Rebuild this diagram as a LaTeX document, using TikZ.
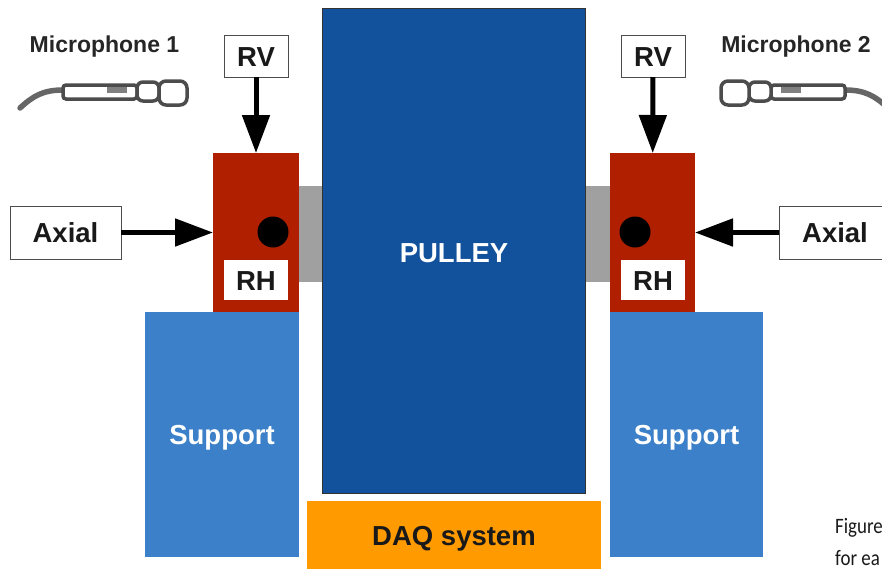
\documentclass[tikz,border=0pt]{standalone}
\usepackage{xcolor}
\usepackage{fontspec}
\setmainfont{Liberation Sans}
\newfontfamily\notefont{Carlito}
\usetikzlibrary{arrows.meta}
\definecolor{pulleyblue}{HTML}{12529C}
\definecolor{supportblue}{HTML}{3B80C8}
\definecolor{bearingred}{HTML}{B02000}
\definecolor{daqorange}{HTML}{FF9A00}
\definecolor{shaftgrey}{HTML}{A0A0A0}
\tikzset{
	block/.style={inner sep=0pt, outer sep=0pt, text height=20pt, text depth=0pt, font=\fontsize{27.5}{30}\selectfont\bfseries, text=white},
	tag/.style={draw=black!70, line width=.8pt, fill=white, inner sep=0pt, outer sep=0pt, text height=20pt, text depth=0pt, font=\fontsize{27.5}{30}\selectfont\bfseries, text=black!90},
	force/.style={line width=5pt, -{Triangle[length=38pt,width=27pt]}},
	notetext/.style={anchor=base west, inner sep=0pt, xscale=.86, font=\notefont\fontsize{22}{24}\selectfont, text=black!90},
	mike/.pic={
		\draw[line width=5.5pt, black!60, line cap=round] (-131,12) .. controls (-118,0) and (-108,-6) .. (-88,-6);
		\draw[line width=3.5pt, black!70, rounded corners=3pt, fill=white] (-88,-11) rectangle (-14,3);
		\fill[black!50] (-44,-9) rectangle (-24,-3);
		\draw[line width=3.5pt, black!70, rounded corners=6pt, fill=white] (-14,-14) rectangle (8,5);
		\draw[line width=3.5pt, black!70, rounded corners=7pt, fill=white] (8,-15) rectangle (36,9);
	}
}
\begin{document}
\begin{tikzpicture}[x=1pt,y=-1pt]
	\useasboundingbox (0,0) rectangle (882,571);
	% blocks
	\node[block, fill=supportblue, minimum width=154pt, minimum height=245pt] (support1) at (222,434.5) {Support};
	\node[block, fill=supportblue, minimum width=153pt, minimum height=245pt] (support2) at (686.5,434.5) {Support};
	\node[block, fill=shaftgrey, minimum width=23pt, minimum height=96pt] (shaft1) at (310.5,234) {};
	\node[block, fill=shaftgrey, minimum width=25pt, minimum height=96pt] (shaft2) at (597.5,234) {};
	\node[block, fill=bearingred, minimum width=86pt, minimum height=159pt] (bearing1) at (256,232.5) {};
	\node[block, fill=bearingred, minimum width=85pt, minimum height=159pt] (bearing2) at (652.5,232.5) {};
	\node[block, fill=pulleyblue, draw=black!80, line width=1pt, minimum width=263pt, minimum height=485pt] (pulley) at (453.5,250.5) {};
	\node[block] (pulleytext) at (454,252) {PULLEY};
	\node[block, fill=daqorange, text=black!90, minimum width=294pt, minimum height=68pt] (daq) at (454,535) {DAQ system};

	% sensors
	\node[block, fill=black, shape=circle, minimum size=31pt] (sensor1) at (273,232) {};
	\node[block, fill=black, shape=circle, minimum size=31pt] (sensor2) at (635,232) {};
	\node[tag, draw=none, minimum width=64pt, minimum height=40pt] (rh1) at (256,280) {RH};
	\node[tag, draw=none, minimum width=64pt, minimum height=40pt] (rh2) at (653,280) {RH};

	% loads
	\node[tag, minimum width=64pt, minimum height=42pt] (rv1) at (256,56) {RV};
	\node[tag, minimum width=64pt, minimum height=42pt] (rv2) at (653,56) {RV};
	\node[tag, minimum width=111pt, minimum height=53pt] (axial1) at (65.5,232.5) {Axial};
	\node[tag, minimum width=112pt, minimum height=53pt] (axial2) at (835,232.5) {Axial};

	%% lines
	\draw[force] (rv1) -- (bearing1);
	\draw[force] (rv2) -- (bearing2);
	\draw[force] (axial1) -- (bearing1);
	\draw[force] (axial2) -- (bearing2);

	% microphones
	\node[font=\fontsize{23}{26}\selectfont\bfseries, text=black!85, text height=16.5pt, text depth=0pt] (mic1) at (104.5,44.5) {Microphone 1};
	\node[font=\fontsize{23}{26}\selectfont\bfseries, text=black!85, text height=16.5pt, text depth=0pt] (mic2) at (796,44.5) {Microphone 2};
	\pic at (151,96) {mike};
	\pic[xscale=-1] at (757,96) {mike};

	% cut off text at the edge
	\node[notetext] (note1) at (835,533) {Figure};
	\node[notetext] (note2) at (835,565) {for ea};
\end{tikzpicture}
\end{document}
